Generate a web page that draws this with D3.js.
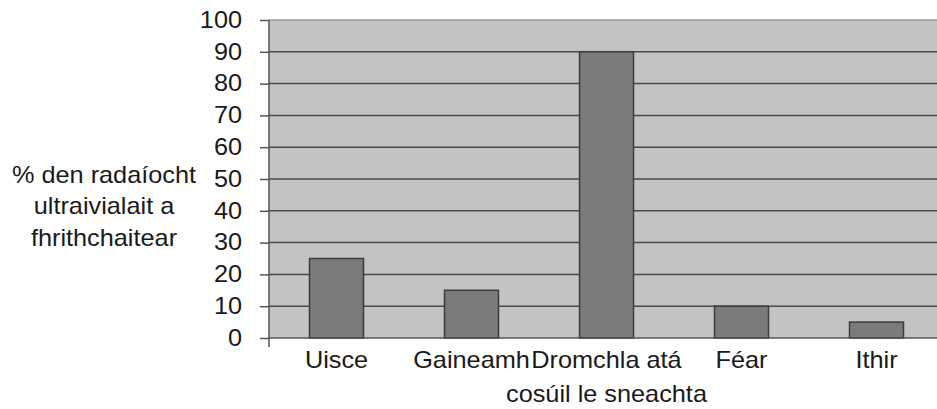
<!DOCTYPE html>
<html>
<head>
<meta charset="utf-8">
<script src="https://cdn.jsdelivr.net/npm/d3@7"></script>
<style>
  body { margin: 0; background: #fff; }
  svg { display: block; font-family: "Liberation Sans", Arial, sans-serif; }
</style>
</head>
<body>
<svg id="chart" width="937" height="409"></svg>
<script>
// data
const CATEGORIES = ['Uisce', 'Gaineamh', 'Dromchla atá cosúil le sneachta', 'Féar', 'Ithir']
const CATEGORY_LINES = [['Uisce'], ['Gaineamh'], ['Dromchla atá', 'cosúil le sneachta'], ['Féar'], ['Ithir']]
const VALUES = [25, 15, 90, 10, 5]
const Y_TICKS = [0, 10, 20, 30, 40, 50, 60, 70, 80, 90, 100]
const Y_TITLE = ['% den radaíocht', 'ultraivialait a', 'fhrithchaitear']

const FONT_SIZE = '23px'
const STRETCH = 1.1 // text in the original is a bit wider than Arial

let chart = d3.select('#chart')

// plot area
let plotLeft = 269, plotRight = 944, plotTop = 20, plotBottom = 338

// widen text horizontally around its anchor point
let stretch = (el, cx) => el.attr('transform', `translate(${cx},0) scale(${STRETCH},1) translate(${-cx},0)`)

let x = d3.scaleBand()
  .domain(CATEGORIES)
  .range([plotLeft, plotRight])
  .paddingInner(0.6)
  .paddingOuter(0.3)

let y = d3.scaleLinear()
  .domain([0, 100])
  .range([plotBottom, plotTop])

// plot background
chart.append('rect')
  .attr('x', plotLeft)
  .attr('y', plotTop)
  .attr('width', plotRight - plotLeft)
  .attr('height', plotBottom - plotTop)
  .attr('fill', '#c3c3c3')

// gridlines
chart.selectAll('line.grid')
  .data(Y_TICKS.filter(t => t > 0))
  .enter()
  .append('line')
  .attr('class', 'grid')
  .attr('x1', plotLeft)
  .attr('x2', plotRight)
  .attr('y1', d => y(d))
  .attr('y2', d => y(d))
  .attr('stroke', d => d === 100 ? '#9a9a9a' : '#4a4a4a')
  .attr('stroke-width', 1.5)

// bars
chart.selectAll('rect.bar')
  .data(VALUES)
  .enter()
  .append('rect')
  .attr('class', 'bar')
  .attr('x', (d, i) => x(CATEGORIES[i]))
  .attr('y', d => y(d))
  .attr('width', x.bandwidth())
  .attr('height', d => y(0) - y(d))
  .attr('fill', '#7b7b7b')
  .attr('stroke', '#3c3c3c')
  .attr('stroke-width', 1.5)

// y axis
let yAxis = chart.append('g')
  .attr('transform', `translate(${plotLeft}, 0)`)
  .call(d3.axisLeft(y).tickValues(Y_TICKS).tickSize(9).tickPadding(18))

yAxis.select('.domain')
  .attr('d', `M0,${plotTop}V${plotBottom + 9}`)
  .attr('stroke', '#555')
  .attr('stroke-width', 1.5)
yAxis.selectAll('.tick line').attr('stroke', '#555').attr('stroke-width', 1.5)
yAxis.selectAll('.tick text')
  .attr('font-size', FONT_SIZE)
  .attr('font-family', '"Liberation Sans", Arial, sans-serif')
  .attr('fill', '#1a1a1a')
  .each(function () { stretch(d3.select(this), -27) })

// x axis line
chart.append('line')
  .attr('x1', plotLeft)
  .attr('x2', plotRight)
  .attr('y1', plotBottom)
  .attr('y2', plotBottom)
  .attr('stroke', '#555')
  .attr('stroke-width', 1.5)

// x labels
let xLabels = chart.selectAll('text.xlab')
  .data(CATEGORIES)
  .enter()
  .append('text')
  .attr('class', 'xlab')
  .attr('text-anchor', 'middle')
  .attr('font-size', FONT_SIZE)
  .attr('fill', '#1a1a1a')
  .each(function (d) { stretch(d3.select(this), x(d) + x.bandwidth() / 2) })

xLabels.selectAll('tspan')
  .data((d, i) => CATEGORY_LINES[i].map(l => ({ line: l, cat: d })))
  .enter()
  .append('tspan')
  .attr('x', d => x(d.cat) + x.bandwidth() / 2)
  .attr('y', (d, j) => 368 + j * 34)
  .text(d => d.line)

// y title
let title = chart.append('text')
  .attr('text-anchor', 'middle')
  .attr('font-size', FONT_SIZE)
  .attr('fill', '#1a1a1a')
stretch(title, 104)

title.selectAll('tspan')
  .data(Y_TITLE)
  .enter()
  .append('tspan')
  .attr('x', 104)
  .attr('y', (d, i) => 183 + i * 31.5)
  .text(d => d)
</script>
</body>
</html>
